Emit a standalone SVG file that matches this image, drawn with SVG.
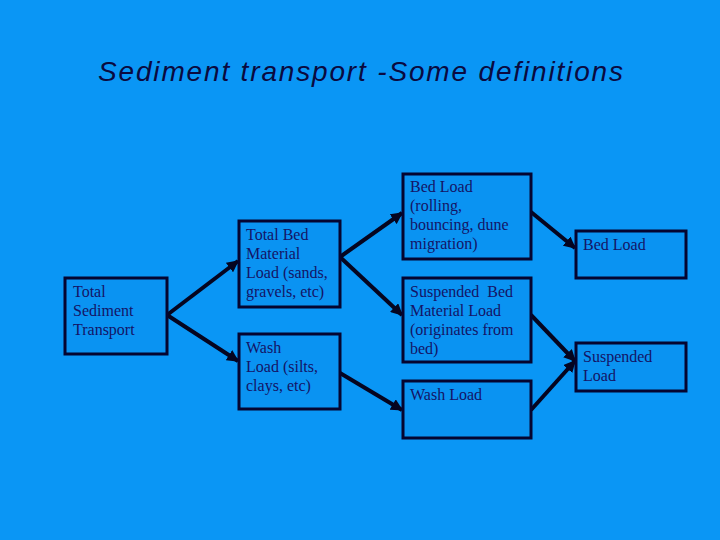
<svg xmlns="http://www.w3.org/2000/svg" width="720" height="540" viewBox="0 0 720 540">
<defs>
<style>
.box{fill:#0a93f2;stroke:#050530;stroke-width:3}
.t{font-family:"Liberation Serif","Times New Roman",serif;font-size:16px;fill:#141466}
.c{stroke:#050520;stroke-width:4;fill:none;marker-end:url(#ah)}
</style>
<marker id="ah" viewBox="0 0 10 10" refX="9" refY="5" markerWidth="3" markerHeight="3" orient="auto" markerUnits="strokeWidth">
<path d="M0,0 L10,5 L0,10 z" fill="#050520"/>
</marker>
</defs>
<rect width="720" height="540" fill="#0a96f5"/>
<text x="98" y="81" font-family="Liberation Sans,Arial,sans-serif" font-style="italic" font-size="28" textLength="525" lengthAdjust="spacing" fill="#0a0a40">Sediment transport -Some definitions</text>
<g id="connectors">
<line class="c" x1="167" y1="315" x2="238" y2="261"/>
<line class="c" x1="167" y1="315" x2="238" y2="361"/>
<line class="c" x1="340" y1="257" x2="402" y2="213"/>
<line class="c" x1="340" y1="257" x2="402" y2="315"/>
<line class="c" x1="340" y1="373" x2="402" y2="410"/>
<line class="c" x1="531" y1="212" x2="575" y2="248"/>
<line class="c" x1="531" y1="315" x2="575" y2="361"/>
<line class="c" x1="531" y1="410" x2="575" y2="361"/>
</g>
<g id="n1"><rect class="box" x="65" y="278" width="102" height="76"/>
<text class="t" x="73" y="297">Total</text><text class="t" x="73" y="316">Sediment</text><text class="t" x="73" y="335">Transport</text></g>
<g id="n2"><rect class="box" x="239" y="221" width="101" height="86"/>
<text class="t" x="246" y="240">Total Bed</text><text class="t" x="246" y="259">Material</text><text class="t" x="246" y="278">Load (sands,</text><text class="t" x="246" y="297">gravels, etc)</text></g>
<g id="n3"><rect class="box" x="239" y="334" width="101" height="75"/>
<text class="t" x="246" y="353">Wash</text><text class="t" x="246" y="372">Load (silts,</text><text class="t" x="246" y="391">clays, etc)</text></g>
<g id="n4"><rect class="box" x="403" y="174" width="128" height="85"/>
<text class="t" x="410" y="192">Bed Load</text><text class="t" x="410" y="211">(rolling,</text><text class="t" x="410" y="230">bouncing, dune</text><text class="t" x="410" y="249">migration)</text></g>
<g id="n5"><rect class="box" x="403" y="278" width="128" height="84"/>
<text class="t" x="410" y="297" xml:space="preserve">Suspended  Bed</text><text class="t" x="410" y="316">Material Load</text><text class="t" x="410" y="335">(originates from</text><text class="t" x="410" y="354">bed)</text></g>
<g id="n6"><rect class="box" x="403" y="381" width="128" height="57"/>
<text class="t" x="410" y="400">Wash Load</text></g>
<g id="n7"><rect class="box" x="576" y="231" width="110" height="47"/>
<text class="t" x="583" y="250">Bed Load</text></g>
<g id="n8"><rect class="box" x="576" y="343" width="110" height="48"/>
<text class="t" x="583" y="362">Suspended</text><text class="t" x="583" y="381">Load</text></g>
</svg>
